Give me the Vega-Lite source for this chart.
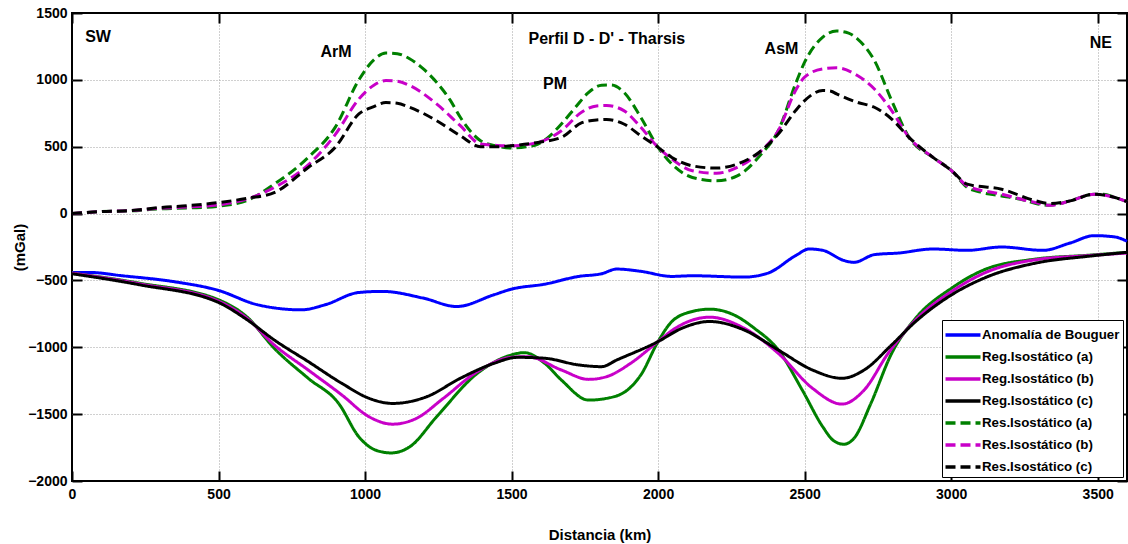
{
  "$schema": "https://vega.github.io/schema/vega-lite/v6.json",
  "width": 1055,
  "height": 468,
  "autosize": {"type": "none"},
  "padding": {"left": 72, "top": 13, "right": 1, "bottom": 63},
  "background": "white",
  "datasets": {
    "curves": [
      {"s":"Anomalía de Bouguer","x":0,"y":-440},{"s":"Anomalía de Bouguer","x":58,"y":-440},{"s":"Anomalía de Bouguer","x":171,"y":-465},{"s":"Anomalía de Bouguer","x":344,"y":-508},{"s":"Anomalía de Bouguer","x":500,"y":-575},{"s":"Anomalía de Bouguer","x":633,"y":-682},{"s":"Anomalía de Bouguer","x":783,"y":-720},{"s":"Anomalía de Bouguer","x":864,"y":-682},{"s":"Anomalía de Bouguer","x":979,"y":-590},{"s":"Anomalía de Bouguer","x":1060,"y":-582},{"s":"Anomalía de Bouguer","x":1198,"y":-632},{"s":"Anomalía de Bouguer","x":1313,"y":-695},{"s":"Anomalía de Bouguer","x":1440,"y":-607},{"s":"Anomalía de Bouguer","x":1500,"y":-565},{"s":"Anomalía de Bouguer","x":1613,"y":-528},{"s":"Anomalía de Bouguer","x":1729,"y":-470},{"s":"Anomalía de Bouguer","x":1807,"y":-450},{"s":"Anomalía de Bouguer","x":1859,"y":-415},{"s":"Anomalía de Bouguer","x":1941,"y":-432},{"s":"Anomalía de Bouguer","x":2047,"y":-470},{"s":"Anomalía de Bouguer","x":2117,"y":-465},{"s":"Anomalía de Bouguer","x":2293,"y":-475},{"s":"Anomalía de Bouguer","x":2375,"y":-445},{"s":"Anomalía de Bouguer","x":2469,"y":-315},{"s":"Anomalía de Bouguer","x":2515,"y":-265},{"s":"Anomalía de Bouguer","x":2562,"y":-275},{"s":"Anomalía de Bouguer","x":2633,"y":-350},{"s":"Anomalía de Bouguer","x":2668,"y":-365},{"s":"Anomalía de Bouguer","x":2738,"y":-307},{"s":"Anomalía de Bouguer","x":2820,"y":-295},{"s":"Anomalía de Bouguer","x":2938,"y":-265},{"s":"Anomalía de Bouguer","x":3055,"y":-275},{"s":"Anomalía de Bouguer","x":3172,"y":-250},{"s":"Anomalía de Bouguer","x":3313,"y":-275},{"s":"Anomalía de Bouguer","x":3406,"y":-220},{"s":"Anomalía de Bouguer","x":3488,"y":-165},{"s":"Anomalía de Bouguer","x":3559,"y":-175},{"s":"Anomalía de Bouguer","x":3600,"y":-207},

      {"s":"Reg.Isostático (a)","x":0,"y":-445},{"s":"Reg.Isostático (a)","x":229,"y":-520},{"s":"Reg.Isostático (a)","x":500,"y":-645},{"s":"Reg.Isostático (a)","x":598,"y":-775},{"s":"Reg.Isostático (a)","x":690,"y":-1007},{"s":"Reg.Isostático (a)","x":806,"y":-1232},{"s":"Reg.Isostático (a)","x":910,"y":-1420},{"s":"Reg.Isostático (a)","x":979,"y":-1670},{"s":"Reg.Isostático (a)","x":1037,"y":-1770},{"s":"Reg.Isostático (a)","x":1089,"y":-1790},{"s":"Reg.Isostático (a)","x":1152,"y":-1745},{"s":"Reg.Isostático (a)","x":1244,"y":-1520},{"s":"Reg.Isostático (a)","x":1383,"y":-1195},{"s":"Reg.Isostático (a)","x":1500,"y":-1057},{"s":"Reg.Isostático (a)","x":1543,"y":-1040},{"s":"Reg.Isostático (a)","x":1613,"y":-1120},{"s":"Reg.Isostático (a)","x":1670,"y":-1245},{"s":"Reg.Isostático (a)","x":1763,"y":-1395},{"s":"Reg.Isostático (a)","x":1824,"y":-1382},{"s":"Reg.Isostático (a)","x":1895,"y":-1320},{"s":"Reg.Isostático (a)","x":1941,"y":-1207},{"s":"Reg.Isostático (a)","x":2000,"y":-957},{"s":"Reg.Isostático (a)","x":2047,"y":-807},{"s":"Reg.Isostático (a)","x":2117,"y":-732},{"s":"Reg.Isostático (a)","x":2176,"y":-715},{"s":"Reg.Isostático (a)","x":2258,"y":-757},{"s":"Reg.Isostático (a)","x":2328,"y":-857},{"s":"Reg.Isostático (a)","x":2410,"y":-1020},{"s":"Reg.Isostático (a)","x":2492,"y":-1320},{"s":"Reg.Isostático (a)","x":2562,"y":-1595},{"s":"Reg.Isostático (a)","x":2597,"y":-1695},{"s":"Reg.Isostático (a)","x":2633,"y":-1725},{"s":"Reg.Isostático (a)","x":2668,"y":-1682},{"s":"Reg.Isostático (a)","x":2726,"y":-1420},{"s":"Reg.Isostático (a)","x":2797,"y":-1045},{"s":"Reg.Isostático (a)","x":2879,"y":-782},{"s":"Reg.Isostático (a)","x":3002,"y":-557},{"s":"Reg.Isostático (a)","x":3113,"y":-420},{"s":"Reg.Isostático (a)","x":3289,"y":-340},{"s":"Reg.Isostático (a)","x":3465,"y":-312},{"s":"Reg.Isostático (a)","x":3600,"y":-290},

      {"s":"Reg.Isostático (b)","x":0,"y":-445},{"s":"Reg.Isostático (b)","x":229,"y":-525},{"s":"Reg.Isostático (b)","x":500,"y":-655},{"s":"Reg.Isostático (b)","x":598,"y":-785},{"s":"Reg.Isostático (b)","x":690,"y":-982},{"s":"Reg.Isostático (b)","x":806,"y":-1170},{"s":"Reg.Isostático (b)","x":921,"y":-1357},{"s":"Reg.Isostático (b)","x":1014,"y":-1520},{"s":"Reg.Isostático (b)","x":1094,"y":-1575},{"s":"Reg.Isostático (b)","x":1175,"y":-1532},{"s":"Reg.Isostático (b)","x":1267,"y":-1382},{"s":"Reg.Isostático (b)","x":1383,"y":-1182},{"s":"Reg.Isostático (b)","x":1500,"y":-1075},{"s":"Reg.Isostático (b)","x":1555,"y":-1070},{"s":"Reg.Isostático (b)","x":1670,"y":-1170},{"s":"Reg.Isostático (b)","x":1763,"y":-1240},{"s":"Reg.Isostático (b)","x":1824,"y":-1220},{"s":"Reg.Isostático (b)","x":1906,"y":-1120},{"s":"Reg.Isostático (b)","x":2000,"y":-957},{"s":"Reg.Isostático (b)","x":2059,"y":-857},{"s":"Reg.Isostático (b)","x":2176,"y":-775},{"s":"Reg.Isostático (b)","x":2293,"y":-857},{"s":"Reg.Isostático (b)","x":2410,"y":-1045},{"s":"Reg.Isostático (b)","x":2527,"y":-1307},{"s":"Reg.Isostático (b)","x":2627,"y":-1425},{"s":"Reg.Isostático (b)","x":2703,"y":-1320},{"s":"Reg.Isostático (b)","x":2785,"y":-1045},{"s":"Reg.Isostático (b)","x":2879,"y":-795},{"s":"Reg.Isostático (b)","x":3002,"y":-582},{"s":"Reg.Isostático (b)","x":3113,"y":-445},{"s":"Reg.Isostático (b)","x":3289,"y":-345},{"s":"Reg.Isostático (b)","x":3465,"y":-315},{"s":"Reg.Isostático (b)","x":3600,"y":-295},

      {"s":"Reg.Isostático (c)","x":0,"y":-450},{"s":"Reg.Isostático (c)","x":229,"y":-532},{"s":"Reg.Isostático (c)","x":500,"y":-665},{"s":"Reg.Isostático (c)","x":598,"y":-795},{"s":"Reg.Isostático (c)","x":690,"y":-945},{"s":"Reg.Isostático (c)","x":806,"y":-1107},{"s":"Reg.Isostático (c)","x":921,"y":-1270},{"s":"Reg.Isostático (c)","x":1014,"y":-1382},{"s":"Reg.Isostático (c)","x":1094,"y":-1420},{"s":"Reg.Isostático (c)","x":1210,"y":-1370},{"s":"Reg.Isostático (c)","x":1325,"y":-1232},{"s":"Reg.Isostático (c)","x":1440,"y":-1120},{"s":"Reg.Isostático (c)","x":1521,"y":-1075},{"s":"Reg.Isostático (c)","x":1613,"y":-1082},{"s":"Reg.Isostático (c)","x":1729,"y":-1132},{"s":"Reg.Isostático (c)","x":1807,"y":-1145},{"s":"Reg.Isostático (c)","x":1859,"y":-1095},{"s":"Reg.Isostático (c)","x":2000,"y":-957},{"s":"Reg.Isostático (c)","x":2082,"y":-857},{"s":"Reg.Isostático (c)","x":2176,"y":-807},{"s":"Reg.Isostático (c)","x":2293,"y":-870},{"s":"Reg.Isostático (c)","x":2410,"y":-1020},{"s":"Reg.Isostático (c)","x":2527,"y":-1170},{"s":"Reg.Isostático (c)","x":2627,"y":-1232},{"s":"Reg.Isostático (c)","x":2703,"y":-1170},{"s":"Reg.Isostático (c)","x":2797,"y":-982},{"s":"Reg.Isostático (c)","x":2879,"y":-807},{"s":"Reg.Isostático (c)","x":3002,"y":-607},{"s":"Reg.Isostático (c)","x":3113,"y":-482},{"s":"Reg.Isostático (c)","x":3289,"y":-370},{"s":"Reg.Isostático (c)","x":3465,"y":-320},{"s":"Reg.Isostático (c)","x":3600,"y":-290},

      {"s":"Res.Isostático (a)","x":0,"y":0},{"s":"Res.Isostático (a)","x":100,"y":15},{"s":"Res.Isostático (a)","x":200,"y":20},{"s":"Res.Isostático (a)","x":300,"y":35},{"s":"Res.Isostático (a)","x":400,"y":42},{"s":"Res.Isostático (a)","x":500,"y":55},{"s":"Res.Isostático (a)","x":600,"y":100},{"s":"Res.Isostático (a)","x":690,"y":220},{"s":"Res.Isostático (a)","x":806,"y":420},{"s":"Res.Isostático (a)","x":898,"y":645},{"s":"Res.Isostático (a)","x":979,"y":1000},{"s":"Res.Isostático (a)","x":1030,"y":1150},{"s":"Res.Isostático (a)","x":1071,"y":1200},{"s":"Res.Isostático (a)","x":1110,"y":1195},{"s":"Res.Isostático (a)","x":1152,"y":1158},{"s":"Res.Isostático (a)","x":1200,"y":1080},{"s":"Res.Isostático (a)","x":1244,"y":982},{"s":"Res.Isostático (a)","x":1290,"y":850},{"s":"Res.Isostático (a)","x":1325,"y":720},{"s":"Res.Isostático (a)","x":1394,"y":545},{"s":"Res.Isostático (a)","x":1450,"y":505},{"s":"Res.Isostático (a)","x":1498,"y":490},{"s":"Res.Isostático (a)","x":1550,"y":500},{"s":"Res.Isostático (a)","x":1590,"y":520},{"s":"Res.Isostático (a)","x":1630,"y":580},{"s":"Res.Isostático (a)","x":1670,"y":670},{"s":"Res.Isostático (a)","x":1720,"y":800},{"s":"Res.Isostático (a)","x":1760,"y":900},{"s":"Res.Isostático (a)","x":1807,"y":960},{"s":"Res.Isostático (a)","x":1840,"y":962},{"s":"Res.Isostático (a)","x":1883,"y":908},{"s":"Res.Isostático (a)","x":1941,"y":720},{"s":"Res.Isostático (a)","x":2000,"y":495},{"s":"Res.Isostático (a)","x":2047,"y":370},{"s":"Res.Isostático (a)","x":2117,"y":270},{"s":"Res.Isostático (a)","x":2199,"y":245},{"s":"Res.Isostático (a)","x":2270,"y":282},{"s":"Res.Isostático (a)","x":2352,"y":445},{"s":"Res.Isostático (a)","x":2410,"y":620},{"s":"Res.Isostático (a)","x":2469,"y":970},{"s":"Res.Isostático (a)","x":2500,"y":1132},{"s":"Res.Isostático (a)","x":2562,"y":1320},{"s":"Res.Isostático (a)","x":2609,"y":1365},{"s":"Res.Isostático (a)","x":2650,"y":1350},{"s":"Res.Isostático (a)","x":2680,"y":1307},{"s":"Res.Isostático (a)","x":2738,"y":1145},{"s":"Res.Isostático (a)","x":2797,"y":845},{"s":"Res.Isostático (a)","x":2856,"y":570},{"s":"Res.Isostático (a)","x":2938,"y":420},{"s":"Res.Isostático (a)","x":3002,"y":320},{"s":"Res.Isostático (a)","x":3055,"y":195},{"s":"Res.Isostático (a)","x":3100,"y":160},{"s":"Res.Isostático (a)","x":3172,"y":132},{"s":"Res.Isostático (a)","x":3250,"y":100},{"s":"Res.Isostático (a)","x":3289,"y":75},{"s":"Res.Isostático (a)","x":3336,"y":62},{"s":"Res.Isostático (a)","x":3406,"y":95},{"s":"Res.Isostático (a)","x":3488,"y":145},{"s":"Res.Isostático (a)","x":3520,"y":145},{"s":"Res.Isostático (a)","x":3559,"y":120},{"s":"Res.Isostático (a)","x":3600,"y":90},

      {"s":"Res.Isostático (b)","x":0,"y":0},{"s":"Res.Isostático (b)","x":100,"y":15},{"s":"Res.Isostático (b)","x":200,"y":22},{"s":"Res.Isostático (b)","x":300,"y":40},{"s":"Res.Isostático (b)","x":400,"y":50},{"s":"Res.Isostático (b)","x":500,"y":65},{"s":"Res.Isostático (b)","x":600,"y":110},{"s":"Res.Isostático (b)","x":690,"y":195},{"s":"Res.Isostático (b)","x":806,"y":365},{"s":"Res.Isostático (b)","x":898,"y":590},{"s":"Res.Isostático (b)","x":979,"y":857},{"s":"Res.Isostático (b)","x":1030,"y":960},{"s":"Res.Isostático (b)","x":1071,"y":995},{"s":"Res.Isostático (b)","x":1110,"y":990},{"s":"Res.Isostático (b)","x":1152,"y":958},{"s":"Res.Isostático (b)","x":1244,"y":820},{"s":"Res.Isostático (b)","x":1325,"y":657},{"s":"Res.Isostático (b)","x":1394,"y":520},{"s":"Res.Isostático (b)","x":1450,"y":510},{"s":"Res.Isostático (b)","x":1498,"y":507},{"s":"Res.Isostático (b)","x":1590,"y":532},{"s":"Res.Isostático (b)","x":1670,"y":620},{"s":"Res.Isostático (b)","x":1740,"y":760},{"s":"Res.Isostático (b)","x":1790,"y":805},{"s":"Res.Isostático (b)","x":1824,"y":808},{"s":"Res.Isostático (b)","x":1883,"y":770},{"s":"Res.Isostático (b)","x":1941,"y":645},{"s":"Res.Isostático (b)","x":2000,"y":495},{"s":"Res.Isostático (b)","x":2047,"y":408},{"s":"Res.Isostático (b)","x":2117,"y":320},{"s":"Res.Isostático (b)","x":2199,"y":302},{"s":"Res.Isostático (b)","x":2270,"y":345},{"s":"Res.Isostático (b)","x":2352,"y":470},{"s":"Res.Isostático (b)","x":2410,"y":620},{"s":"Res.Isostático (b)","x":2469,"y":920},{"s":"Res.Isostático (b)","x":2500,"y":1020},{"s":"Res.Isostático (b)","x":2562,"y":1082},{"s":"Res.Isostático (b)","x":2609,"y":1090},{"s":"Res.Isostático (b)","x":2680,"y":1032},{"s":"Res.Isostático (b)","x":2738,"y":932},{"s":"Res.Isostático (b)","x":2797,"y":770},{"s":"Res.Isostático (b)","x":2856,"y":570},{"s":"Res.Isostático (b)","x":2938,"y":420},{"s":"Res.Isostático (b)","x":3002,"y":320},{"s":"Res.Isostático (b)","x":3055,"y":208},{"s":"Res.Isostático (b)","x":3172,"y":145},{"s":"Res.Isostático (b)","x":3289,"y":82},{"s":"Res.Isostático (b)","x":3336,"y":62},{"s":"Res.Isostático (b)","x":3406,"y":95},{"s":"Res.Isostático (b)","x":3488,"y":145},{"s":"Res.Isostático (b)","x":3559,"y":120},{"s":"Res.Isostático (b)","x":3600,"y":90},

      {"s":"Res.Isostático (c)","x":0,"y":0},{"s":"Res.Isostático (c)","x":100,"y":15},{"s":"Res.Isostático (c)","x":200,"y":22},{"s":"Res.Isostático (c)","x":300,"y":45},{"s":"Res.Isostático (c)","x":400,"y":60},{"s":"Res.Isostático (c)","x":500,"y":82},{"s":"Res.Isostático (c)","x":600,"y":115},{"s":"Res.Isostático (c)","x":690,"y":157},{"s":"Res.Isostático (c)","x":806,"y":345},{"s":"Res.Isostático (c)","x":898,"y":495},{"s":"Res.Isostático (c)","x":979,"y":745},{"s":"Res.Isostático (c)","x":1030,"y":800},{"s":"Res.Isostático (c)","x":1071,"y":830},{"s":"Res.Isostático (c)","x":1110,"y":825},{"s":"Res.Isostático (c)","x":1152,"y":795},{"s":"Res.Isostático (c)","x":1244,"y":695},{"s":"Res.Isostático (c)","x":1325,"y":582},{"s":"Res.Isostático (c)","x":1394,"y":500},{"s":"Res.Isostático (c)","x":1450,"y":500},{"s":"Res.Isostático (c)","x":1498,"y":507},{"s":"Res.Isostático (c)","x":1590,"y":532},{"s":"Res.Isostático (c)","x":1670,"y":570},{"s":"Res.Isostático (c)","x":1740,"y":680},{"s":"Res.Isostático (c)","x":1790,"y":700},{"s":"Res.Isostático (c)","x":1824,"y":703},{"s":"Res.Isostático (c)","x":1883,"y":670},{"s":"Res.Isostático (c)","x":1941,"y":582},{"s":"Res.Isostático (c)","x":2000,"y":495},{"s":"Res.Isostático (c)","x":2047,"y":420},{"s":"Res.Isostático (c)","x":2117,"y":357},{"s":"Res.Isostático (c)","x":2199,"y":340},{"s":"Res.Isostático (c)","x":2270,"y":370},{"s":"Res.Isostático (c)","x":2352,"y":470},{"s":"Res.Isostático (c)","x":2410,"y":595},{"s":"Res.Isostático (c)","x":2469,"y":770},{"s":"Res.Isostático (c)","x":2500,"y":845},{"s":"Res.Isostático (c)","x":2562,"y":920},{"s":"Res.Isostático (c)","x":2590,"y":915},{"s":"Res.Isostático (c)","x":2609,"y":895},{"s":"Res.Isostático (c)","x":2680,"y":832},{"s":"Res.Isostático (c)","x":2738,"y":795},{"s":"Res.Isostático (c)","x":2797,"y":707},{"s":"Res.Isostático (c)","x":2856,"y":570},{"s":"Res.Isostático (c)","x":2938,"y":420},{"s":"Res.Isostático (c)","x":3002,"y":320},{"s":"Res.Isostático (c)","x":3055,"y":220},{"s":"Res.Isostático (c)","x":3172,"y":182},{"s":"Res.Isostático (c)","x":3289,"y":95},{"s":"Res.Isostático (c)","x":3336,"y":75},{"s":"Res.Isostático (c)","x":3406,"y":95},{"s":"Res.Isostático (c)","x":3488,"y":145},{"s":"Res.Isostático (c)","x":3559,"y":120},{"s":"Res.Isostático (c)","x":3600,"y":90}
    ],
    "labels": [
      {"t":"SW","x":89,"y":1320},
      {"t":"ArM","x":901,"y":1211},
      {"t":"Perfil D - D' - Tharsis","x":1825,"y":1302},
      {"t":"PM","x":1648,"y":967},
      {"t":"AsM","x":2421,"y":1230},
      {"t":"NE","x":3511,"y":1276}
    ]
  },
  "resolve": {"axis": {"x": "independent", "y": "independent"}},
  "layer": [
    {
      "data": {"name": "labels"},
      "mark": {"type": "point", "opacity": 0},
      "encoding": {
        "x": {"field": "x", "type": "quantitative",
              "axis": {"orient": "bottom", "labels": false, "ticks": false, "title": null, "grid": true, "values": [500,1000,1500,2000,2500,3000,3500]}},
        "y": {"field": "y", "type": "quantitative",
              "axis": {"orient": "left", "labels": false, "ticks": false, "title": null, "grid": true, "values": [-1500,-1000,-500,0,500,1000]}}
      }
    },
    {
      "data": {"name": "curves"},
      "mark": {"type": "line", "strokeWidth": 3, "interpolate": "monotone"},
      "encoding": {
        "x": {"field": "x", "type": "quantitative",
              "scale": {"domain": [0, 3600], "nice": false, "zero": false},
              "axis": {"orient": "bottom", "title": "Distancia (km)", "values": [0,500,1000,1500,2000,2500,3000,3500], "grid": false, "offset": -10, "labelPadding": 6, "titlePadding": 26}},
        "y": {"field": "y", "type": "quantitative",
              "scale": {"domain": [-2000, 1500], "nice": false, "zero": false},
              "axis": {"orient": "left", "title": "(mGal)", "values": [-2000,-1500,-1000,-500,0,500,1000,1500], "grid": false, "offset": -10, "labelPadding": 5, "titlePadding": 0}},
        "color": {"field": "s", "type": "nominal",
                  "scale": {"domain": ["Anomalía de Bouguer","Reg.Isostático (a)","Reg.Isostático (b)","Reg.Isostático (c)","Res.Isostático (a)","Res.Isostático (b)","Res.Isostático (c)"],
                            "range": ["#0000FF","#008000","#C800C8","#000000","#008000","#C800C8","#000000"]},
                  "legend": {"title": null}},
        "strokeDash": {"field": "s", "type": "nominal",
                  "scale": {"domain": ["Anomalía de Bouguer","Reg.Isostático (a)","Reg.Isostático (b)","Reg.Isostático (c)","Res.Isostático (a)","Res.Isostático (b)","Res.Isostático (c)"],
                            "range": [[1,0],[1,0],[1,0],[1,0],[10,5],[10,5],[10,5]]},
                  "legend": {"title": null}}
      }
    },
    {
      "data": {"name": "labels"},
      "mark": {"type": "text", "font": "Liberation Sans", "fontWeight": "bold", "fontSize": 16, "align": "center", "baseline": "middle", "color": "black"},
      "encoding": {
        "x": {"field": "x", "type": "quantitative",
              "axis": {"orient": "top", "labels": false, "title": null, "grid": false, "offset": -10, "values": [0,500,1000,1500,2000,2500,3000,3500]}},
        "y": {"field": "y", "type": "quantitative",
              "axis": {"orient": "right", "labels": false, "title": null, "grid": false, "offset": -10, "values": [-2000,-1500,-1000,-500,0,500,1000,1500]}},
        "text": {"field": "t"}
      }
    }
  ],
  "config": {
    "view": {"stroke": "black", "strokeWidth": 2},
    "axis": {
      "domain": false, "format": "d",
      "labelFont": "Liberation Sans", "labelFontWeight": "bold", "labelFontSize": 14, "labelColor": "black",
      "titleFont": "Liberation Sans", "titleFontWeight": "bold", "titleFontSize": 15, "titleColor": "black",
      "tickColor": "black", "tickWidth": 2, "tickSize": 10,
      "gridColor": "#a0a0a0", "gridDash": [1, 2], "gridWidth": 1, "labelFlush": false, "labelOverlap": false
    },
    "legend": {
      "orient": "bottom-right", "offset": 4, "padding": 3,
      "strokeColor": "black", "fillColor": "white",
      "symbolType": "M-1.75,0H1.75", "symbolStrokeWidth": 3.5, "symbolSize": 400, "symbolOffset": 6,
      "labelFont": "Liberation Sans", "labelFontWeight": "bold", "labelFontSize": 13.3, "labelColor": "black",
      "labelOffset": 7, "rowPadding": 3, "labelLimit": 300
    }
  }
}
